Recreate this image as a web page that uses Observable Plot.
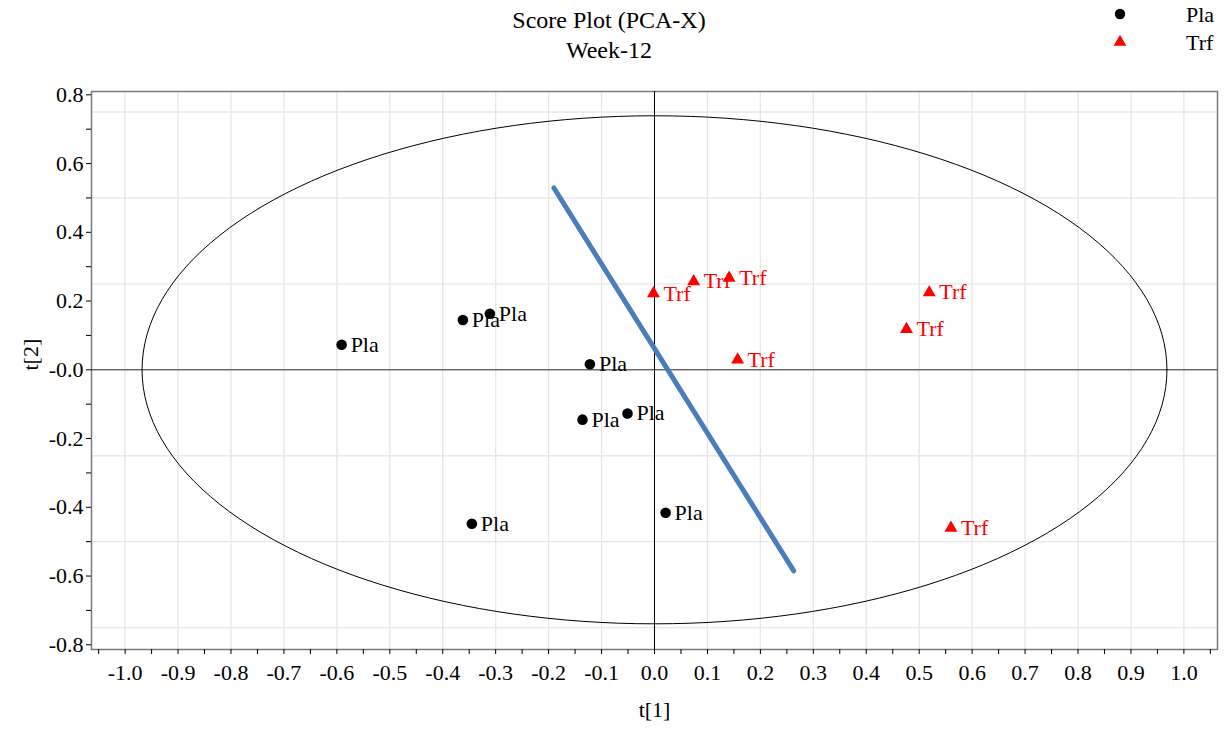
<!DOCTYPE html>
<html><head><meta charset="utf-8">
<script src="https://cdn.jsdelivr.net/npm/d3@7"></script>
<script src="https://cdn.jsdelivr.net/npm/@observablehq/plot@0.6"></script>
<style>
body{margin:0;background:#fff;font-family:"Liberation Serif","Times New Roman",serif;}
#wrap{position:relative;width:1225px;height:730px;}
#header{position:relative;height:80px;}
#title{position:absolute;left:609px;top:5px;transform:translateX(-50%);text-align:center;font-size:24px;line-height:30px;color:#000;white-space:nowrap;}
#legend{position:absolute;left:1100px;top:0px;}
#chart svg{display:block;}
#chart svg text{font-family:"Liberation Serif","Times New Roman",serif;}
</style></head><body>
<div id="wrap"><div id="header"><div id="title"></div><svg id="legend" width="125" height="60"></svg></div><div id="chart"></div></div>
<script>
const titleLines = ["Score Plot (PCA-X)", "Week-12"];
const seriesNames = ["Pla", "Trf"];
const seriesColors = ["#000000", "#ff0000"];
const seriesSymbols = ["circle", "triangle"];

const plaX = [-0.591, -0.362, -0.311, -0.122, -0.136, -0.051, -0.345, 0.021];
const plaY = [0.073, 0.145, 0.163, 0.016, -0.145, -0.127, -0.448, -0.416];
const trfX = [-0.002, 0.074, 0.141, 0.157, 0.519, 0.476, 0.560];
const trfY = [0.222, 0.257, 0.267, 0.029, 0.225, 0.118, -0.460];

const lineX = [-0.190, 0.263];
const lineY = [0.529, -0.585];

const ellipseRx = 0.968;
const ellipseRy = 0.739;

const xTicks = [-1.0,-0.9,-0.8,-0.7,-0.6,-0.5,-0.4,-0.3,-0.2,-0.1,0.0,0.1,0.2,0.3,0.4,0.5,0.6,0.7,0.8,0.9,1.0];
const xTickLabels = ["-1.0","-0.9","-0.8","-0.7","-0.6","-0.5","-0.4","-0.3","-0.2","-0.1","0.0","0.1","0.2","0.3","0.4","0.5","0.6","0.7","0.8","0.9","1.0"];
const xMinorTicks = [-1.05,-0.95,-0.85,-0.75,-0.65,-0.55,-0.45,-0.35,-0.25,-0.15,-0.05,0.05,0.15,0.25,0.35,0.45,0.55,0.65,0.75,0.85,0.95,1.05];
const yTicks = [0.8,0.6,0.4,0.2,0.0,-0.2,-0.4,-0.6,-0.8];
const yTickLabels = ["0.8","0.6","0.4","0.2","-0.0","-0.2","-0.4","-0.6","-0.8"];
const yMinorTicks = [0.7,0.5,0.3,0.1,-0.1,-0.3,-0.5,-0.7];
const xGrid = xTicks;
const yGrid = [0.75,0.5,0.25,0,-0.25,-0.5,-0.75];
const xDomain = [-1.0635, 1.0635];
const yDomain = [-0.8137, 0.8096];
const xLabel = "t[1]";
const yLabel = "t[2]";

const font = "Liberation Serif, Times New Roman, serif";

// title
document.getElementById("title").innerHTML = titleLines.map(t => `<div>${t}</div>`).join("");

// legend
const leg = d3.select("#legend");
const symMap = {circle: d3.symbolCircle, triangle: d3.symbolTriangle};
seriesNames.forEach((name, i) => {
  const cy = 14 + i * 28;
  leg.append("path")
    .attr("transform", `translate(20,${cy})`)
    .attr("d", d3.symbol(symMap[seriesSymbols[i]], i === 0 ? 85 : 70)())
    .attr("fill", seriesColors[i]);
  leg.append("text")
    .attr("x", 86).attr("y", cy).attr("dy", "0.35em")
    .attr("font-family", font).attr("font-size", 22)
    .text(name);
});

const pla = plaX.map((x, i) => ({x, y: plaY[i], group: seriesNames[0]}));
const trf = trfX.map((x, i) => ({x, y: trfY[i], group: seriesNames[1]}));
const loading = lineX.map((x, i) => ({x, y: lineY[i]}));
const ellipse = d3.range(0, 361, 2).map(a => ({
  x: ellipseRx * Math.cos(a * Math.PI / 180),
  y: ellipseRy * Math.sin(a * Math.PI / 180)
}));

const chart = Plot.plot({
  width: 1225,
  height: 650,
  marginLeft: 91,
  marginRight: 8,
  marginTop: 11,
  marginBottom: 81,
  style: {fontFamily: font, fontSize: "22px", background: "#fff", color: "#000"},
  x: {domain: xDomain, label: null},
  y: {domain: yDomain, label: null},
  marks: [
    Plot.gridX(xGrid, {stroke: "#e6e6e6", strokeOpacity: 1, strokeWidth: 1.3}),
    Plot.gridY(yGrid, {stroke: "#e6e6e6", strokeOpacity: 1, strokeWidth: 1.3}),
    Plot.frame({stroke: "#7a7a7a", strokeWidth: 1.5}),
    Plot.ruleX([0], {stroke: "#000", strokeWidth: 1}),
    Plot.ruleY([0], {stroke: "#333", strokeWidth: 1}),
    Plot.line(ellipse, {x: "x", y: "y", stroke: "#000", strokeWidth: 1, curve: "linear"}),
    Plot.line(loading, {x: "x", y: "y", stroke: "#4a7ebb", strokeWidth: 5}),
    Plot.dot(pla, {x: "x", y: "y", r: 5.3, fill: seriesColors[0], symbol: seriesSymbols[0]}),
    Plot.dot(trf, {x: "x", y: "y", r: 4.8, fill: seriesColors[1], symbol: seriesSymbols[1]}),
    Plot.text(pla, {x: "x", y: "y", text: "group", dx: 9, textAnchor: "start", fill: seriesColors[0], fontSize: 22, fontFamily: font}),
    Plot.text(trf, {x: "x", y: "y", text: "group", dx: 10, textAnchor: "start", fill: seriesColors[1], fontSize: 22, fontFamily: font}),
    Plot.axisX({ticks: xMinorTicks, tickFormat: () => "", tickSize: 5, stroke: "#000", label: null}),
    Plot.axisX({ticks: xTicks, tickFormat: (d, i) => xTickLabels[i], tickSize: 5, tickPadding: 10, fontSize: 22, fontFamily: font, line: true, stroke: "#000", label: null}),
    Plot.axisY({ticks: yMinorTicks, tickFormat: () => "", tickSize: 5, stroke: "#000", label: null}),
    Plot.axisY({ticks: yTicks, tickFormat: (d, i) => yTickLabels[i], tickSize: 5, tickPadding: 3, fontSize: 22, fontFamily: font, line: true, stroke: "#000", label: null}),
    Plot.text([xLabel], {frameAnchor: "bottom", dy: 67, text: d => d, fontSize: 22, fontFamily: font}),
    Plot.text([yLabel], {frameAnchor: "left", dx: -61, rotate: -90, text: d => d, fontSize: 22, fontFamily: font})
  ]
});
document.getElementById("chart").appendChild(chart);
</script>
</body></html>
